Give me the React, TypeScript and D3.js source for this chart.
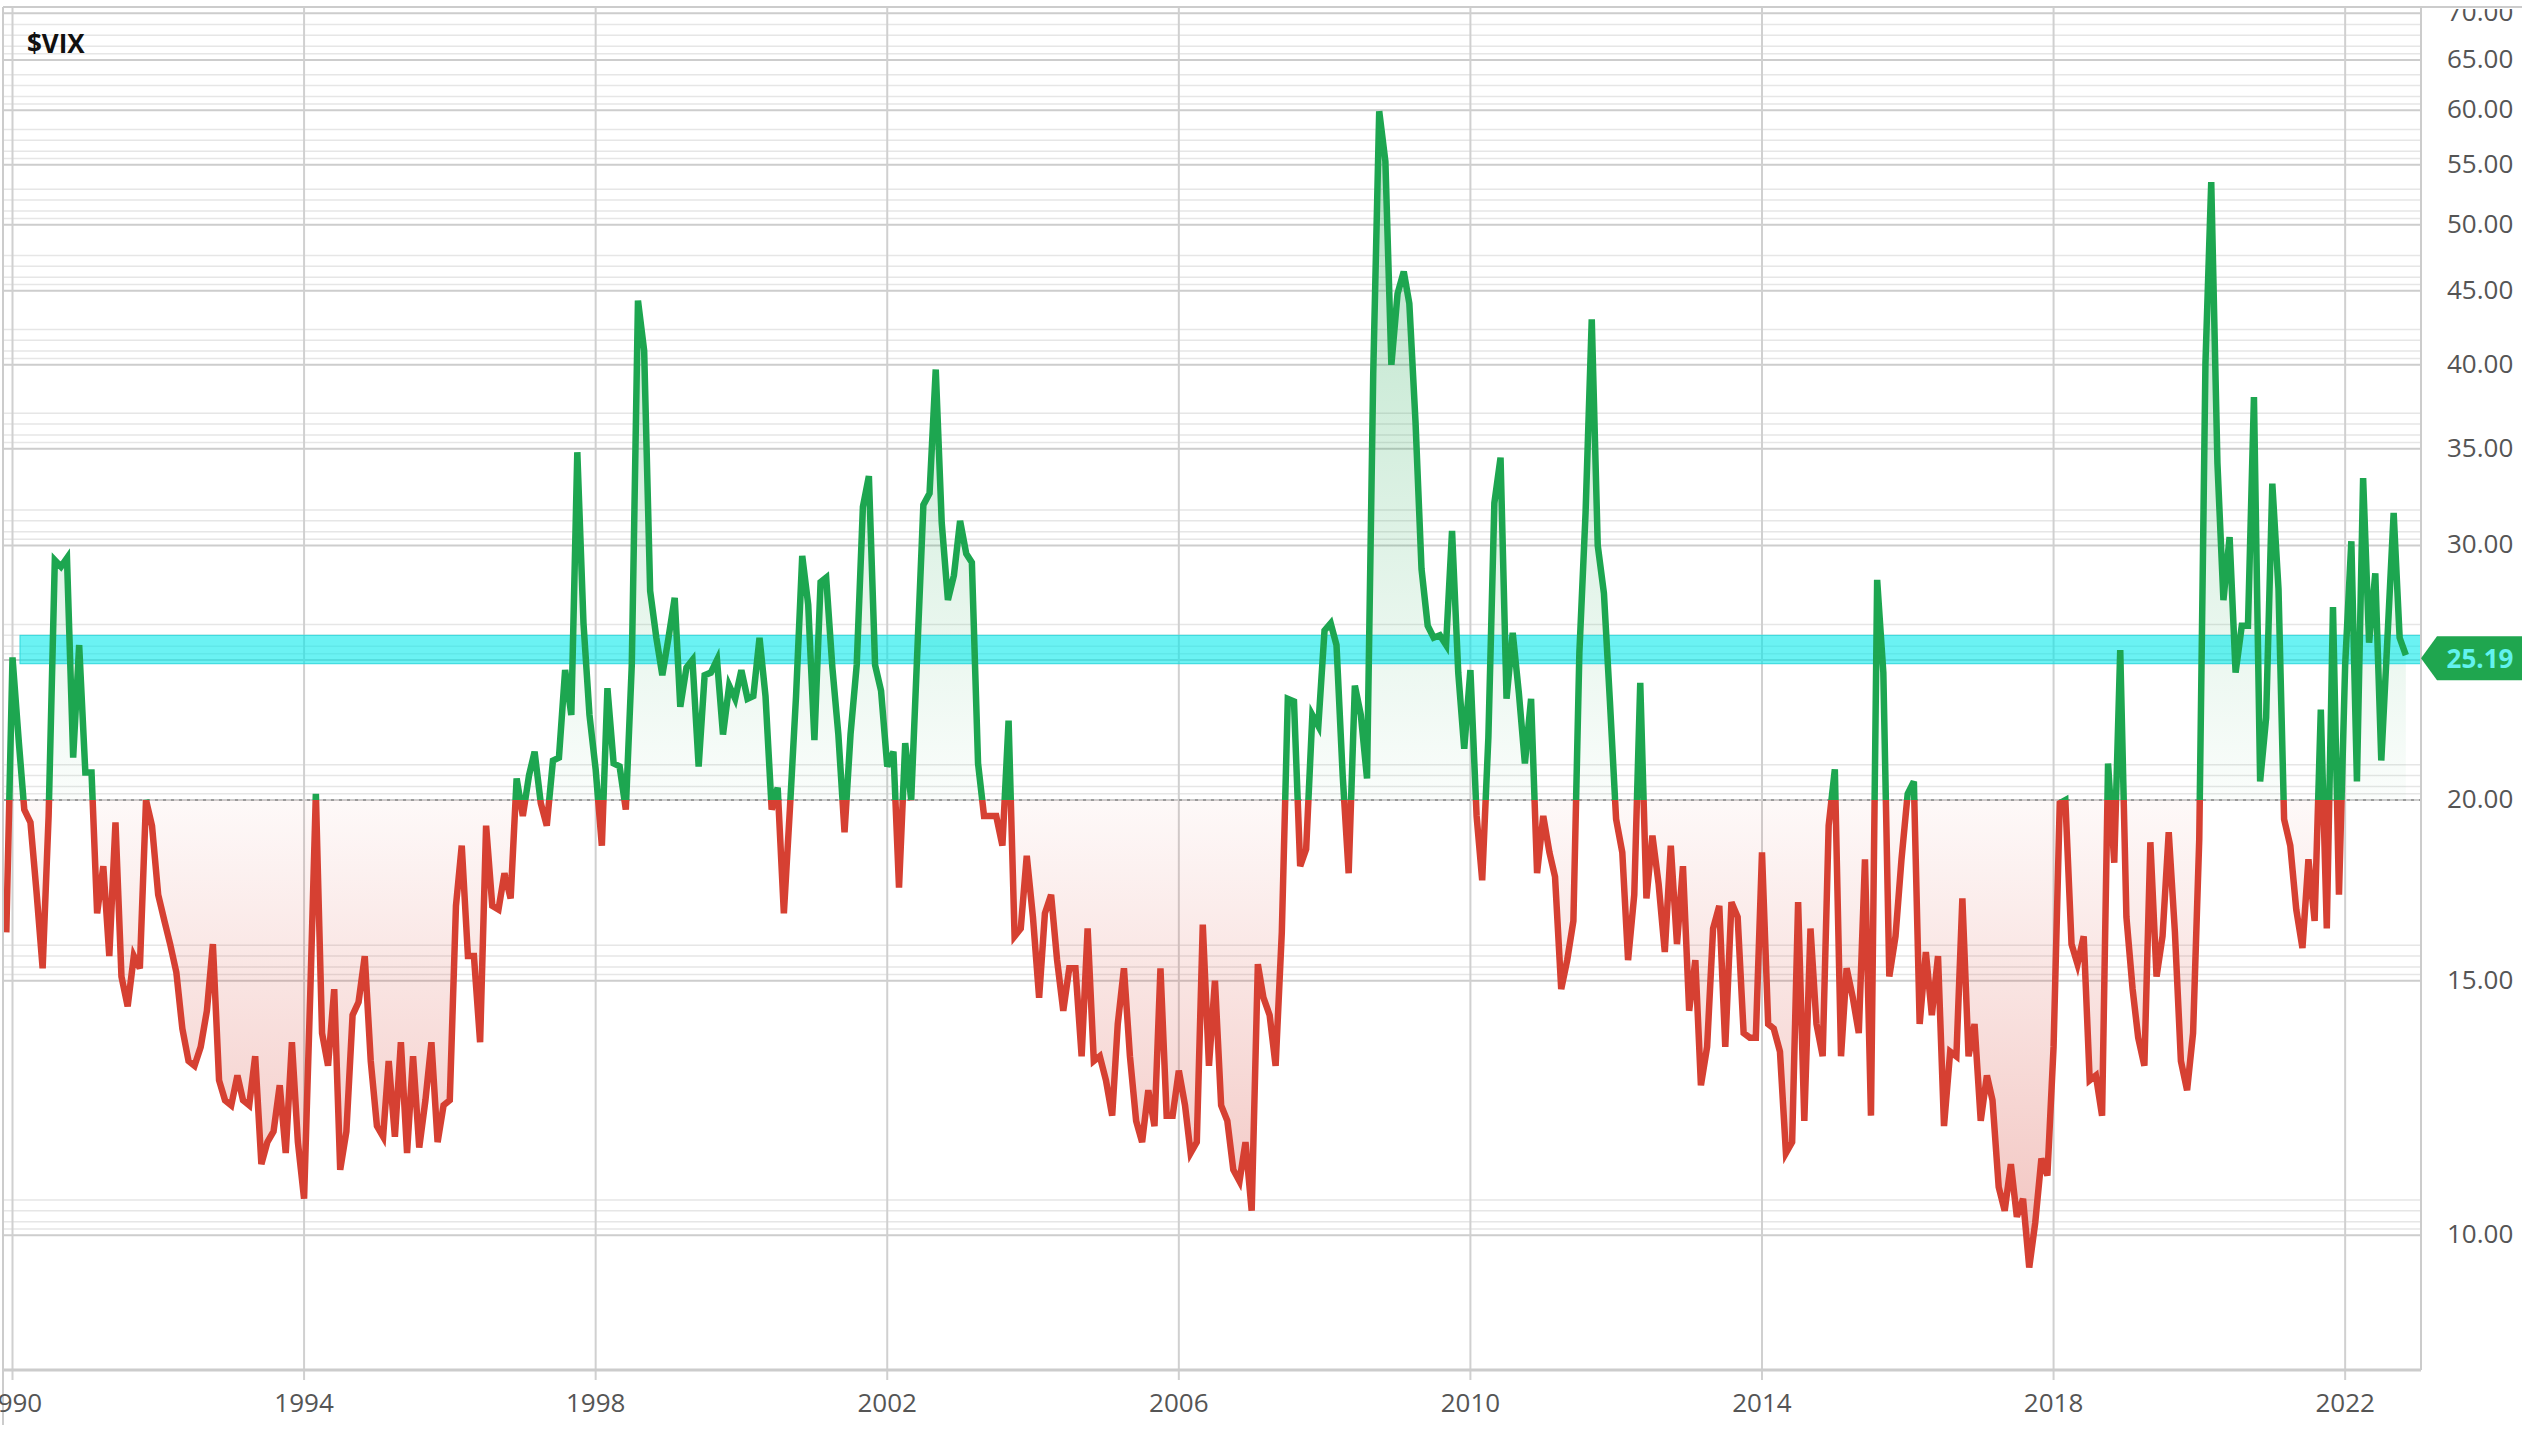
import React from 'react';
import * as d3 from 'd3';

// first point of the series is the December 1989 close
const startYear = 1989;
const startMonth = 11;

// monthly closes, Dec 1989 .. Dec 1999
const vix1990s = [
  16.2,
  25.1, 22.0, 19.7, 19.3, 17.3, 15.3, 19.5, 29.3, 29.0, 29.4, 21.4, 25.6,
  20.9, 20.9, 16.7, 18.0, 15.6, 19.3, 15.1, 14.4, 15.6, 15.3, 20.0, 19.2,
  17.2, 16.5, 15.9, 15.2, 13.9, 13.2, 13.1, 13.5, 14.3, 15.9, 12.8, 12.4,
  12.3, 12.9, 12.4, 12.3, 13.3, 11.2, 11.6, 11.8, 12.7, 11.4, 13.6, 11.6,
  10.6, 14.7, 20.2, 13.8, 13.1, 14.8, 11.1, 11.8, 14.2, 14.5, 15.6, 13.2,
  11.9, 11.7, 13.2, 11.7, 13.6, 11.4, 13.3, 11.5, 12.4, 13.6, 11.6, 12.3,
  12.4, 16.9, 18.6, 15.6, 15.6, 13.6, 19.2, 16.9, 16.8, 17.8, 17.1, 20.7,
  19.5, 20.8, 21.6, 19.9, 19.2, 21.3, 21.4, 24.6, 22.9, 34.8, 26.5, 22.9,
  21.0, 18.6, 23.9, 21.2, 21.1, 19.7, 24.8, 44.3, 40.9, 27.9, 25.9, 24.4,
  25.9, 27.6, 23.2, 24.7, 25.0, 21.1, 24.4, 24.5, 25.0, 22.2, 24.0, 23.5,
];

const vix2000s = [
  24.6, 23.5, 23.6, 25.9, 23.6, 19.7, 20.4, 16.7, 19.8, 23.6, 29.5, 27.3,
  22.0, 28.3, 28.5, 24.7, 22.2, 19.0, 22.2, 24.8, 31.9, 33.5, 24.8, 23.8,
  21.1, 21.6, 17.4, 21.9, 20.0, 25.4, 32.0, 32.6, 39.7, 31.1, 27.5, 28.6,
  31.2, 29.6, 29.2, 21.2, 19.5, 19.5, 19.5, 18.6, 22.7, 16.1, 16.3, 18.3,
  16.6, 14.6, 16.7, 17.2, 15.5, 14.3, 15.3, 15.3, 13.3, 16.3, 13.2, 13.3,
  12.8, 12.1, 14.0, 15.3, 13.3, 12.0, 11.6, 12.6, 11.9, 15.3, 12.1, 12.1,
  13.0, 12.3, 11.4, 11.6, 16.4, 13.1, 15.0, 12.3, 12.0, 11.1, 10.9, 11.6,
  10.4, 15.4, 14.6, 14.2, 13.1, 16.2, 23.5, 23.4, 18.0, 18.5, 22.9, 22.5,
  26.2, 26.5, 25.6, 20.8, 17.8, 24.0, 22.9, 20.7, 39.4, 59.9, 55.3, 40.0,
  44.8, 46.4, 44.1, 36.5, 28.9, 26.4, 25.9, 26.0, 25.6, 30.7, 24.5, 21.7,
];

const vix2010s = [
  24.6, 19.5, 17.6, 22.1, 32.1, 34.5, 23.5, 26.1, 23.7, 21.2, 23.5, 17.8,
  19.5, 18.4, 17.7, 14.8, 15.5, 16.5, 25.3, 31.6, 43.0, 30.0, 27.8, 23.4,
  19.4, 18.4, 15.5, 17.2, 24.1, 17.1, 18.9, 17.5, 15.7, 18.6, 15.9, 18.0,
  14.3, 15.5, 12.7, 13.5, 16.3, 16.9, 13.5, 17.0, 16.6, 13.8, 13.7, 13.7,
  18.4, 14.0, 13.9, 13.4, 11.4, 11.6, 17.0, 12.0, 16.3, 14.0, 13.3, 19.2,
  21.0, 13.3, 15.3, 14.6, 13.8, 18.2, 12.1, 28.4, 24.5, 15.1, 16.1, 18.2,
  20.2, 20.6, 14.0, 15.7, 14.2, 15.6, 11.9, 13.4, 13.3, 17.1, 13.3, 14.0,
  12.0, 12.9, 12.4, 10.8, 10.4, 11.2, 10.3, 10.6, 9.5, 10.2, 11.3, 11.0,
  13.5, 19.9, 20.0, 15.9, 15.4, 16.1, 12.8, 12.9, 12.1, 21.2, 18.1, 25.4,
  16.6, 14.8, 13.7, 13.1, 18.7, 15.1, 16.1, 19.0, 16.2, 13.2, 12.6, 13.8,
];

// Jan 2020 .. Nov 2022 (last one is the current value)
const vix2020s = [
  18.8, 40.1, 53.5, 34.2, 27.5, 30.4, 24.5, 26.4, 26.4, 38.0, 20.6, 22.8,
  33.1, 28.0, 19.4, 18.6, 16.8, 15.8, 18.2, 16.5, 23.1, 16.3, 27.2, 17.2,
  24.8, 30.2, 20.6, 33.4, 25.7, 28.7, 21.3, 25.9, 31.6, 25.9, 25.19,
];

const yearTicks = [1990, 1994, 1998, 2002, 2006, 2010, 2014, 2018, 2022];
const priceTicks = [10, 15, 20, 25, 30, 35, 40, 45, 50, 55, 60, 65, 70];
const minorSteps = [1.01, 1.022, 1.04, 1.058];
const baseline = 20;
const lastValue = 25.19;
const bandRange = [24.85, 26.0];
const symbol = '$VIX';

const W = 2548;
const H = 1438;
const plotLeft = 3;
const plotRight = 2421;
const plotTop = 8;
const plotBottom = 1370;

const green = '#1da650';
const red = '#d64032';
const font = '"Open Sans", sans-serif';

export default function App() {
  const values = [...vix1990s, ...vix2000s, ...vix2010s, ...vix2020s];
  const data = values.map((v, i) => ({ date: new Date(startYear, startMonth + i, 1), v }));

  const x = d3
    .scaleTime()
    .domain([new Date(1990, 0, 1), new Date(2023, 0, 1)])
    .range([12.5, 2418]);
  const y = d3.scaleLog().domain([8.07, 70.6]).range([plotBottom, plotTop]);

  const yb = y(baseline);
  const line = d3
    .line()
    .x(d => x(d.date))
    .y(d => y(d.v));
  const area = d3
    .area()
    .x(d => x(d.date))
    .y0(yb)
    .y1(d => y(d.v));

  const linePath = line(data);
  const areaPath = area(data);

  const minorLines = [];
  priceTicks.forEach(t => minorSteps.forEach(s => minorLines.push(t * s)));

  const yl = y(lastValue) + 3;
  const tagPath = `M${plotRight},${yl} L${plotRight + 16},${yl - 22} L2522,${yl - 22} L2522,${yl + 22} L${plotRight + 16},${yl + 22} Z`;

  return (
    <svg
      width={W}
      height={H}
      style={{ position: 'absolute', left: 0, top: 0, background: '#fff' }}
      fontFamily={font}
    >
      <defs>
        <clipPath id="above">
          <rect x={plotLeft} y={plotTop} width={plotRight - plotLeft} height={yb - plotTop} />
        </clipPath>
        <clipPath id="below">
          <rect x={plotLeft} y={yb} width={plotRight - plotLeft} height={plotBottom - yb} />
        </clipPath>
        <clipPath id="labels">
          <rect x={plotRight} y={plotTop + 1} width={W - plotRight} height={H} />
        </clipPath>
        <linearGradient id="greenFill" gradientUnits="userSpaceOnUse" x1={0} y1={yb} x2={0} y2={y(60)}>
          <stop offset="0" stopColor={green} stopOpacity={0.02} />
          <stop offset="1" stopColor={green} stopOpacity={0.34} />
        </linearGradient>
        <linearGradient id="redFill" gradientUnits="userSpaceOnUse" x1={0} y1={yb} x2={0} y2={y(9)}>
          <stop offset="0" stopColor={red} stopOpacity={0.03} />
          <stop offset="1" stopColor={red} stopOpacity={0.34} />
        </linearGradient>
      </defs>

      {/* minor horizontal grid */}
      {minorLines
        .filter(v => y(v) > plotTop)
        .map((v, i) => (
          <line key={'m' + i} x1={plotLeft} x2={plotRight} y1={y(v)} y2={y(v)} stroke="#e6e6e6" strokeWidth={1.5} />
        ))}
      {/* major horizontal grid */}
      {priceTicks.map(t => (
        <line key={'g' + t} x1={plotLeft} x2={plotRight} y1={y(t)} y2={y(t)} stroke="#cdcdcd" strokeWidth={2} />
      ))}
      {/* vertical grid */}
      {yearTicks.map(yr => {
        const gx = x(new Date(yr, 0, 1));
        return <line key={'v' + yr} x1={gx} x2={gx} y1={plotTop} y2={plotBottom + 10} stroke="#d0d0d0" strokeWidth={2} />;
      })}

      {/* fills */}
      <path d={areaPath} fill="url(#greenFill)" clipPath="url(#above)" />
      <path d={areaPath} fill="url(#redFill)" clipPath="url(#below)" />

      {/* highlighted level */}
      <rect
        x={20}
        y={y(bandRange[1])}
        width={plotRight - 20}
        height={y(bandRange[0]) - y(bandRange[1])}
        fill="#00e8ea"
        fillOpacity={0.58}
        stroke="#30d8dc"
        strokeWidth={1}
      />

      {/* baseline */}
      <line x1={plotLeft} x2={plotRight} y1={yb} y2={yb} stroke="#8a8a8a" strokeWidth={1.5} strokeDasharray="3,5" />

      {/* price line */}
      <path d={linePath} fill="none" stroke={green} strokeWidth={6.5} clipPath="url(#above)" />
      <path d={linePath} fill="none" stroke={red} strokeWidth={6.5} clipPath="url(#below)" />

      {/* frame */}
      <line x1={plotLeft} x2={2522} y1={plotTop - 1} y2={plotTop - 1} stroke="#cccccc" strokeWidth={2} />
      <line x1={plotLeft} x2={plotLeft} y1={plotTop - 1} y2={1425} stroke="#cccccc" strokeWidth={2} />
      <line x1={plotRight} x2={plotRight} y1={plotTop - 1} y2={plotBottom} stroke="#cccccc" strokeWidth={2} />
      <line x1={plotLeft} x2={plotRight} y1={plotBottom} y2={plotBottom} stroke="#cccccc" strokeWidth={3} />

      {/* y labels */}
      <g clipPath="url(#labels)">
        {priceTicks.map(t => (
          <text
            key={'t' + t}
            x={2447}
            y={y(t) - 2}
            dominantBaseline="central"
            fontSize={26}
            fill="#555"
          >
            {t.toFixed(2)}
          </text>
        ))}
      </g>

      {/* x labels */}
      {yearTicks.map(yr => (
        <text
          key={'x' + yr}
          x={x(new Date(yr, 0, 1))}
          y={1402}
          textAnchor="middle"
          dominantBaseline="central"
          fontSize={26}
          fill="#555"
        >
          {yr}
        </text>
      ))}

      {/* last value tag */}
      <path d={tagPath} fill="#1fa64f" />
      <text x={2480} y={yl} textAnchor="middle" dominantBaseline="central" fontSize={26} fontWeight="bold" fill="#62f2ee">
        {lastValue.toFixed(2)}
      </text>

      <text x={27} y={53} fontSize={26} fontWeight="bold" fill="#111">
        {symbol}
      </text>
    </svg>
  );
}
